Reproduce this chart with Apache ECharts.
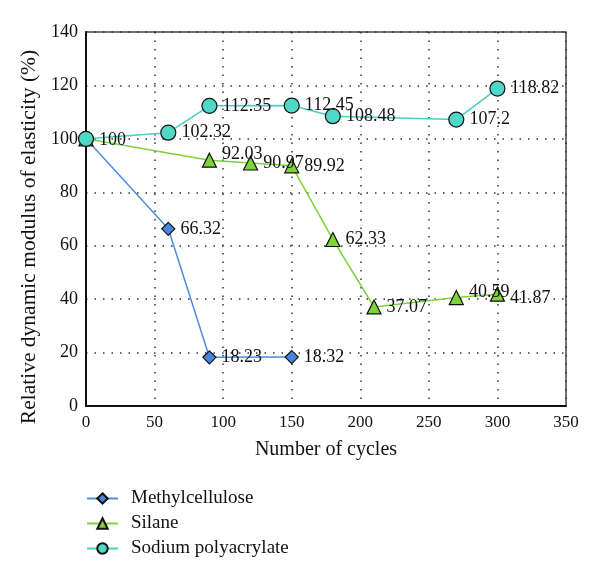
<!DOCTYPE html>
<html><head><meta charset="utf-8">
<script src="https://cdn.jsdelivr.net/npm/echarts@6/dist/echarts.min.js"></script>
<style>html,body{margin:0;padding:0;background:#fff}#c{width:600px;height:577px}</style>
</head><body><div id="c"></div>
<script>
const xTicks = [0, 50, 100, 150, 200, 250, 300, 350];
const methylX = [0, 60, 90, 150];
const methylY = [100, 66.32, 18.23, 18.32];
const silaneX = [0, 90, 120, 150, 180, 210, 270, 300];
const silaneY = [100, 92.03, 90.97, 89.92, 62.33, 37.07, 40.59, 41.87];
const sodiumX = [0, 60, 90, 150, 180, 270, 300];
const sodiumY = [100, 102.32, 112.35, 112.45, 108.48, 107.2, 118.82];

const FONT = '"Liberation Serif", "DejaVu Serif", serif';
// label tweaks per point
const labelTweak = {
  Methylcellulose: {0: {show: false}},
  Silane: {0: {show: false}, 1: {offset: [0, -6]}, 6: {offset: [0, -5]}, 7: {offset: [0, 4]}},
  'Sodium polyacrylate': {0: {offset: [0, 1]}}
};
const pairs = (name, xs, ys) => xs.map((x, i) => {
  const t = (labelTweak[name] || {})[i];
  return t ? {value: [x, ys[i]], label: t} : [x, ys[i]];
});
const lbl = {show: true, position: 'right', distance: 5, color: '#111', fontFamily: FONT, fontSize: 18,
  formatter: p => String(p.value[1])};

const chart = echarts.init(document.getElementById('c'));
chart.setOption({
  animation: false,
  textStyle: {fontFamily: FONT},
  grid: {left: 86, right: 34, top: 32, bottom: 171, show: true, borderColor: '#444', borderWidth: 1.5},
  xAxis: {type: 'value', min: 0, max: 350, interval: 50,
    name: 'Number of cycles', nameLocation: 'middle', nameGap: 34,
    nameTextStyle: {fontFamily: FONT, fontSize: 20, color: '#111'},
    axisLine: {show: true, lineStyle: {color: '#111', width: 2}},
    axisTick: {show: false},
    axisLabel: {fontFamily: FONT, fontSize: 17, color: '#111', margin: 8},
    splitLine: {show: true, lineStyle: {color: '#333', type: [1.5, 7], width: 1.5}}},
  yAxis: {type: 'value', min: 0, max: 140, interval: 20,
    name: 'Relative dynamic modulus of elasticity (%)', nameLocation: 'middle', nameGap: 46,
    nameTextStyle: {fontFamily: FONT, fontSize: 21.5, color: '#111', padding: [0, 36, 0, 0]},
    axisLine: {show: true, lineStyle: {color: '#111', width: 2}},
    axisTick: {show: false},
    axisLabel: {fontFamily: FONT, fontSize: 18, color: '#111', margin: 8},
    splitLine: {show: true, lineStyle: {color: '#333', type: [1.5, 7], width: 1.5}}},
  legend: {orient: 'vertical', left: 86, top: 489, padding: 0, itemGap: 6, itemWidth: 31, itemHeight: 13,
    textStyle: {fontFamily: FONT, fontSize: 19, color: '#111', lineHeight: 19, padding: [0, 0, 0, 8]},
    data: ['Methylcellulose', 'Silane', 'Sodium polyacrylate']},
  series: [
    {name: 'Methylcellulose', type: 'line', data: pairs('Methylcellulose', methylX, methylY),
      symbol: 'diamond', symbolSize: 13,
      lineStyle: {color: '#4a8de0', width: 1.5},
      itemStyle: {color: '#4a86e0', borderColor: '#111', borderWidth: 1.2},
      label: lbl},
    {name: 'Silane', type: 'line', data: pairs('Silane', silaneX, silaneY),
      symbol: 'triangle', symbolSize: 14,
      lineStyle: {color: '#7ed23a', width: 1.5},
      itemStyle: {color: '#7ed23a', borderColor: '#111', borderWidth: 1.2},
      label: lbl},
    {name: 'Sodium polyacrylate', type: 'line', data: pairs('Sodium polyacrylate', sodiumX, sodiumY),
      symbol: 'circle', symbolSize: 15,
      lineStyle: {color: '#45d0c4', width: 1.5},
      itemStyle: {color: '#4ed8c8', borderColor: '#111', borderWidth: 1.2},
      label: lbl}
  ]
});
</script></body></html>
